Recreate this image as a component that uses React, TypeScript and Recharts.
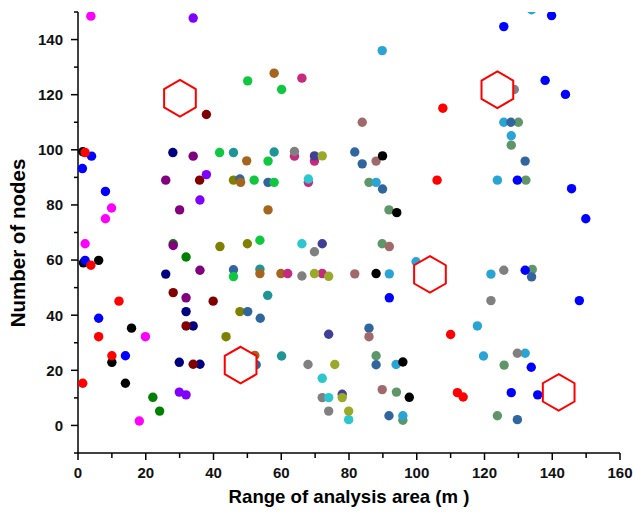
import { ScatterChart, Scatter, XAxis, YAxis } from 'recharts'

// node positions, grouped by marker colour
const green = [{ x: 28.1, y: 65.9 }, { x: 31.9, y: 61.1 }, { x: 22.1, y: 10.2 }, { x: 24.1, y: 5.2 }]
const purple = [{ x: 34.0, y: 97.7 }, { x: 25.9, y: 89.0 }, { x: 30.0, y: 78.2 }, { x: 28.1, y: 65.3 }, { x: 36.0, y: 56.3 }, { x: 31.9, y: 46.3 }]
const navy = [{ x: 28.0, y: 99.0 }, { x: 25.9, y: 54.9 }, { x: 31.9, y: 41.3 }, { x: 34.0, y: 36.1 }, { x: 29.9, y: 22.9 }, { x: 36.0, y: 22.2 }]
const maroon = [{ x: 37.9, y: 112.8 }, { x: 35.9, y: 89.0 }, { x: 28.1, y: 48.2 }, { x: 39.9, y: 45.1 }, { x: 31.9, y: 36.1 }, { x: 34.0, y: 22.2 }]
const violet = [{ x: 34.0, y: 147.8 }, { x: 37.9, y: 91.0 }, { x: 36.0, y: 81.8 }, { x: 29.9, y: 12.1 }, { x: 31.9, y: 11.1 }]
const teal = [{ x: 45.9, y: 99.0 }, { x: 57.9, y: 99.2 }, { x: 53.7, y: 56.7 }, { x: 56.0, y: 47.2 }, { x: 60.1, y: 25.2 }]
const olive = [{ x: 45.9, y: 89.0 }, { x: 41.9, y: 64.9 }, { x: 50.0, y: 65.9 }, { x: 47.8, y: 41.3 }, { x: 43.7, y: 32.2 }]
const seaGreen = [
  { x: 85.9, y: 88.2 }, { x: 91.8, y: 78.2 }, { x: 89.8, y: 65.9 }, { x: 88.0, y: 25.3 }, { x: 94.0, y: 12.1 }, { x: 95.9, y: 1.9 },
  { x: 130.0, y: 110.0 }, { x: 127.9, y: 101.7 }, { x: 132.2, y: 89.0 }, { x: 134.1, y: 56.6 }, { x: 125.8, y: 21.9 }, { x: 123.8, y: 3.5 },
]
const skyBlue = [
  { x: 89.8, y: 136.0 }, { x: 88.0, y: 88.2 }, { x: 91.9, y: 55.0 }, { x: 99.8, y: 59.4 }, { x: 93.9, y: 22.1 }, { x: 95.9, y: 3.5 },
  { x: 133.9, y: 150.8 }, { x: 125.7, y: 110.0 }, { x: 127.9, y: 105.1 }, { x: 123.8, y: 89.0 }, { x: 121.9, y: 54.9 },
  { x: 117.9, y: 36.1 }, { x: 119.7, y: 25.2 }, { x: 132.0, y: 26.2 },
]
const steelBlue = [
  { x: 47.8, y: 89.4 }, { x: 56.1, y: 88.2 }, { x: 81.7, y: 99.2 }, { x: 83.9, y: 94.9 }, { x: 89.9, y: 85.8 }, { x: 45.9, y: 56.5 },
  { x: 50.1, y: 41.3 }, { x: 53.8, y: 38.9 }, { x: 85.9, y: 35.3 }, { x: 88.0, y: 22.0 }, { x: 91.8, y: 3.5 }, { x: 52.6, y: 22.0 },
  { x: 127.8, y: 110.0 }, { x: 132.0, y: 95.9 }, { x: 133.9, y: 53.9 }, { x: 129.7, y: 2.1 },
]
const brown = [{ x: 49.8, y: 96.0 }, { x: 57.9, y: 127.8 }, { x: 48.0, y: 88.2 }, { x: 56.1, y: 78.2 }, { x: 53.7, y: 55.1 }, { x: 59.9, y: 55.1 }, { x: 52.2, y: 25.4 }]
const brightGreen = [{ x: 41.8, y: 99.0 }, { x: 50.1, y: 125.0 }, { x: 60.1, y: 121.9 }, { x: 56.1, y: 95.9 }, { x: 52.0, y: 89.0 }, { x: 57.9, y: 88.2 }, { x: 53.7, y: 67.2 }, { x: 45.9, y: 54.0 }]
const pink = [{ x: 66.1, y: 126.0 }, { x: 63.9, y: 97.7 }, { x: 69.8, y: 95.9 }, { x: 68.0, y: 88.2 }, { x: 61.9, y: 55.1 }, { x: 72.1, y: 55.1 }]
const gray = [
  { x: 63.9, y: 99.4 }, { x: 69.8, y: 63.0 }, { x: 66.1, y: 54.2 }, { x: 67.9, y: 22.1 }, { x: 72.1, y: 10.1 }, { x: 74.0, y: 5.2 },
  { x: 128.8, y: 121.9 }, { x: 125.7, y: 56.3 }, { x: 121.9, y: 45.3 }, { x: 129.7, y: 26.2 },
]
const slateBlue = [{ x: 69.8, y: 97.8 }, { x: 72.1, y: 65.9 }, { x: 74.0, y: 33.1 }, { x: 78.0, y: 11.3 }]
const cyan = [{ x: 68.0, y: 89.4 }, { x: 66.1, y: 65.9 }, { x: 72.1, y: 17.1 }, { x: 74.0, y: 10.1 }, { x: 79.9, y: 2.1 }]
const yellowGreen = [{ x: 72.1, y: 97.8 }, { x: 69.8, y: 55.1 }, { x: 74.0, y: 54.1 }, { x: 75.8, y: 22.1 }, { x: 78.0, y: 10.1 }, { x: 79.9, y: 5.2 }]
const rosyBrown = [{ x: 83.9, y: 110.0 }, { x: 88.0, y: 95.9 }, { x: 91.9, y: 64.9 }, { x: 81.7, y: 55.0 }, { x: 85.9, y: 32.2 }, { x: 89.8, y: 13.0 }]
const magenta = [{ x: 3.8, y: 148.5 }, { x: 9.9, y: 78.9 }, { x: 8.1, y: 75.0 }, { x: 2.1, y: 65.9 }, { x: 19.9, y: 32.2 }, { x: 18.1, y: 1.6 }]
const black = [
  { x: 1.4, y: 99.3 }, { x: 1.6, y: 59.0 }, { x: 6.1, y: 59.9 }, { x: 15.8, y: 35.3 }, { x: 10.0, y: 22.9 }, { x: 14.0, y: 15.3 },
  { x: 89.9, y: 97.8 }, { x: 94.1, y: 77.2 }, { x: 88.0, y: 55.1 }, { x: 95.9, y: 23.0 }, { x: 97.8, y: 10.2 },
]
const blue = [
  { x: 4.0, y: 97.7 }, { x: 1.3, y: 93.2 }, { x: 8.1, y: 84.9 }, { x: 2.1, y: 59.9 }, { x: 6.1, y: 38.9 }, { x: 14.0, y: 25.3 },
  { x: 91.9, y: 46.3 }, { x: 125.7, y: 144.7 }, { x: 139.8, y: 148.7 }, { x: 137.9, y: 125.2 }, { x: 143.9, y: 120.1 },
  { x: 129.7, y: 89.0 }, { x: 145.7, y: 85.9 }, { x: 149.9, y: 75.0 }, { x: 132.0, y: 56.3 }, { x: 148.0, y: 45.3 },
  { x: 133.8, y: 21.1 }, { x: 127.9, y: 11.9 }, { x: 135.7, y: 11.1 },
]
const red = [
  { x: 2.1, y: 99.0 }, { x: 3.8, y: 58.1 }, { x: 12.1, y: 45.1 }, { x: 6.1, y: 32.2 }, { x: 10.0, y: 25.3 }, { x: 1.4, y: 15.3 },
  { x: 107.7, y: 115.1 }, { x: 106.0, y: 89.0 }, { x: 110.0, y: 33.0 }, { x: 112.0, y: 11.9 }, { x: 113.7, y: 10.3 },
]

// hexagon sites drawn on top of the nodes
const hexSites = [{ x: 30.1, y: 118.7 }, { x: 123.8, y: 121.8 }, { x: 103.9, y: 54.8 }, { x: 48.0, y: 21.9 }, { x: 141.9, y: 12.0 }]

const xTicks = [0, 10, 20, 30, 40, 50, 60, 70, 80, 90, 100, 110, 120, 130, 140, 150, 160]
const yTicks = [-10, 0, 10, 20, 30, 40, 50, 60, 70, 80, 90, 100, 110, 120, 130, 140, 150]

// bottom-to-top draw order
const groups = [
  { color: '#008000', data: green },
  { color: '#800080', data: purple },
  { color: '#000080', data: navy },
  { color: '#800000', data: maroon },
  { color: '#8000FF', data: violet },
  { color: '#1E9696', data: teal },
  { color: '#808000', data: olive },
  { color: '#5E9668', data: seaGreen },
  { color: '#2AA4D4', data: skyBlue },
  { color: '#30659E', data: steelBlue },
  { color: '#A5651E', data: brown },
  { color: '#10C840', data: brightGreen },
  { color: '#C42A7E', data: pink },
  { color: '#808080', data: gray },
  { color: '#3F3F98', data: slateBlue },
  { color: '#2CC6CE', data: cyan },
  { color: '#9AAA28', data: yellowGreen },
  { color: '#A06A6A', data: rosyBrown },
  { color: '#FF00FF', data: magenta },
  { color: '#000000', data: black },
  { color: '#0000FF', data: blue },
  { color: '#FF0000', data: red },
]

const FONT = 'Arial, "Liberation Sans", sans-serif'

// full-bleed page
document.body.style.margin = '0'

const XTick = ({ x, y, payload }: any) => {
  const major = payload.value % 20 === 0
  return (
    <g>
      <line x1={x} x2={x} y1={y} y2={y + (major ? 7 : 5)} stroke="#000" strokeWidth={1.5} />
      {major && (
        <text x={x} y={y + 25} textAnchor="middle" fontFamily={FONT} fontSize={15} fontWeight="bold" fill="#111">
          {payload.value}
        </text>
      )}
    </g>
  )
}

const YTick = ({ x, y, payload }: any) => {
  const major = payload.value % 20 === 0 && payload.value >= 0 && payload.value <= 140
  return (
    <g>
      <line x1={x} x2={x - (major ? 7 : 4)} y1={y} y2={y} stroke="#000" strokeWidth={1.5} />
      {major && (
        <text x={x - 15} y={y + 5.4} textAnchor="end" fontFamily={FONT} fontSize={15} fontWeight="bold" fill="#111">
          {payload.value}
        </text>
      )}
    </g>
  )
}

const Dot = (color: string) => (p: any) => <circle cx={p.cx} cy={p.cy} r={4.7} fill={color} />

const Hexagon = (p: any) => {
  const r = 18.3
  const pts = [0, 1, 2, 3, 4, 5]
    .map(i => {
      const a = (Math.PI / 3) * i - Math.PI / 2
      return `${p.cx + r * Math.cos(a)},${p.cy + r * Math.sin(a)}`
    })
    .join(' ')
  return <polygon points={pts} fill="#fff" stroke="#FF0000" strokeWidth={2} />
}

export default function App() {
  return (
    <div style={{ width: 633, height: 514, background: '#fff' }}>
      <ScatterChart width={633} height={514} margin={{ top: 12, right: 13, bottom: 0, left: 18 }} style={{ overflow: 'visible' }}>
        <XAxis
          type="number"
          dataKey="x"
          domain={[0, 160]}
          ticks={xTicks}
          interval={0}
          tickSize={0}
          tickMargin={0}
          tickLine={false}
          tick={<XTick />}
          height={61}
          axisLine={{ stroke: '#000', strokeWidth: 1.5 }}
          label={{
            content: ({ viewBox }: any) => (
              <text
                x={viewBox.x + viewBox.width / 2}
                y={viewBox.y + 49.7}
                textAnchor="middle"
                fontFamily={FONT}
                fontSize={18.6}
                fontWeight="bold"
                fill="#000"
              >
                Range of analysis area (m )
              </text>
            ),
          }}
        />
        <YAxis
          type="number"
          dataKey="y"
          domain={[-10, 150]}
          allowDataOverflow
          ticks={yTicks}
          interval={0}
          tickSize={0}
          tickMargin={0}
          tickLine={false}
          tick={<YTick />}
          width={60}
          axisLine={{ stroke: '#000', strokeWidth: 1.5 }}
          label={{
            content: ({ viewBox }: any) => {
              const cx = viewBox.x + 7
              const cy = viewBox.y + viewBox.height / 2 + 10.5
              return (
                <text
                  x={cx}
                  y={cy}
                  transform={`rotate(-90, ${cx}, ${cy})`}
                  textAnchor="middle"
                  fontFamily={FONT}
                  fontSize={20.5}
                  fontWeight="bold"
                  fill="#000"
                >
                  Number of nodes
                </text>
              )
            },
          }}
        />
        {groups.map((g, i) => (
          <Scatter key={i} data={g.data} fill={g.color} shape={Dot(g.color)} isAnimationActive={false} />
        ))}
        <Scatter data={hexSites} shape={Hexagon} isAnimationActive={false} />
      </ScatterChart>
    </div>
  )
}
